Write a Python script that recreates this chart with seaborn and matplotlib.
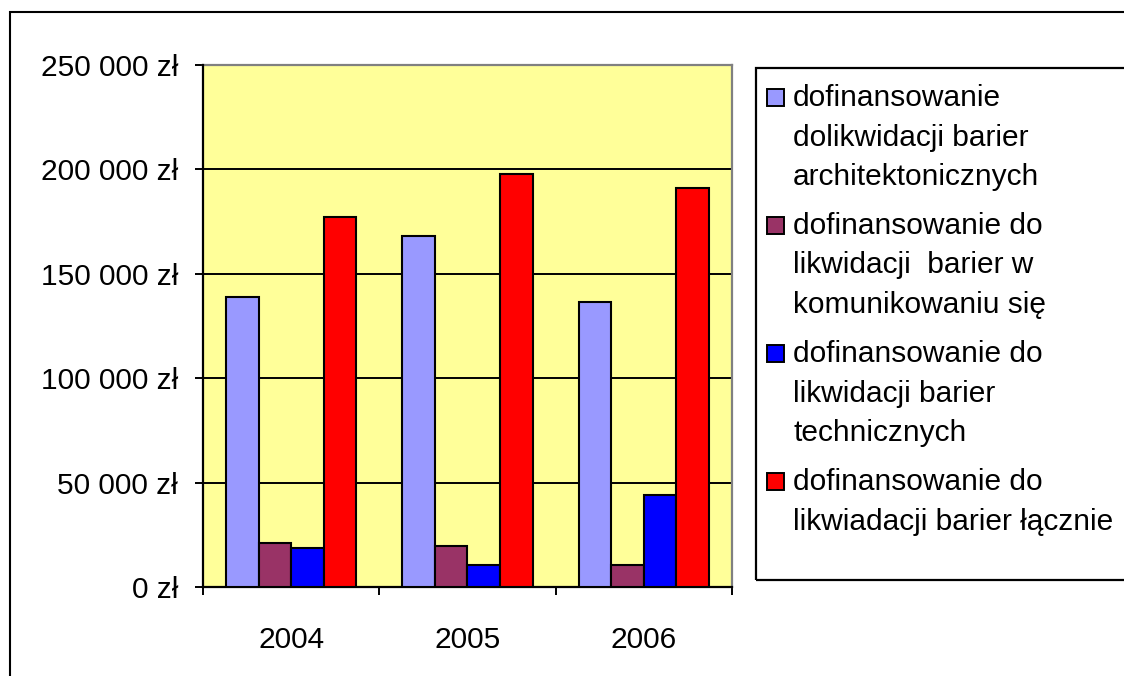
import pandas as pd
import matplotlib
matplotlib.use('Agg')
import matplotlib.pyplot as plt
import matplotlib.patches as mpatches
from matplotlib.ticker import FuncFormatter, FixedLocator
import seaborn as sns

# Dane (kwoty w zł)
lata = ['2004', '2005', '2006']
serie = [
    'dofinansowanie\ndolikwidacji barier\narchitektonicznych',
    'dofinansowanie do\nlikwidacji  barier w\nkomunikowaniu się',
    'dofinansowanie do\nlikwidacji barier\ntechnicznych',
    'dofinansowanie do\nlikwiadacji barier łącznie',
]
architektoniczne = [139000, 168000, 136500]
komunikowanie = [21000, 19600, 10400]
techniczne = [18500, 10400, 44000]
lacznie = [177000, 198000, 191000]
kolory = ['#9999FF', '#993366', '#0000FF', '#FF0000']
y_ticks = [0, 50000, 100000, 150000, 200000, 250000]

df = pd.DataFrame({
    'rok': lata * 4,
    'seria': [s for s in serie for _ in lata],
    'kwota': architektoniczne + komunikowanie + techniczne + lacznie,
})

sns.set_style('white')
plt.rcParams['font.family'] = ['Liberation Sans', 'DejaVu Sans']
plt.rcParams['text.color'] = 'black'
plt.rcParams['xtick.color'] = 'black'
plt.rcParams['ytick.color'] = 'black'

W, H = 1124, 676
FS = 21.5
fig = plt.figure(figsize=(W / 100, H / 100), dpi=100)
fig.patch.set_facecolor('white')

def fx(x):
    return x / W

def fy(y):
    return 1 - y / H

# ramka całego wykresu
fig.patches.append(mpatches.Rectangle((fx(10), -0.1), 1.2, fy(12) + 0.1,
                                      transform=fig.transFigure, fill=False,
                                      edgecolor='black', linewidth=1.5))

ax = fig.add_axes([fx(203), fy(587), (732 - 203) / W, (587 - 65) / H])
ax.set_facecolor('#FFFF99')

sns.barplot(data=df, x='rok', y='kwota', hue='seria', hue_order=serie, order=lata,
            palette=kolory, saturation=1, width=0.74, edgecolor='black',
            linewidth=1.5, errorbar=None, legend=False, ax=ax, zorder=3)

ax.set_xlim(-0.5, 2.5)
ax.set_ylim(0, 250000)
ax.set_xlabel('')
ax.set_ylabel('')

ax.yaxis.set_major_locator(FixedLocator(y_ticks))
ax.yaxis.set_major_formatter(FuncFormatter(
    lambda v, p: f"{int(v):,} zł".replace(',', ' ')))
ax.set_axisbelow(True)
ax.yaxis.grid(True, color='black', linewidth=1.4, zorder=1)
ax.xaxis.grid(False)

# etykiety lat w środku grup, kreski na granicach grup
ax.set_xticks(range(len(lata)))
ax.set_xticklabels(lata)
ax.set_xticks([-0.5, 0.5, 1.5, 2.5], minor=True)
ax.tick_params(axis='x', which='major', length=0, pad=28, labelsize=FS)
ax.tick_params(axis='x', which='minor', length=6, width=1.4, color='black',
               direction='out', bottom=True)
ax.tick_params(axis='y', length=6, width=1.4, color='black', direction='out',
               left=True, pad=12, labelsize=FS)

for s in ['left', 'bottom']:
    ax.spines[s].set_color('black')
    ax.spines[s].set_linewidth(1.6)
for s in ['top', 'right']:
    ax.spines[s].set_color('#808080')
    ax.spines[s].set_linewidth(1.6)
    ax.spines[s].set_zorder(2)

# legenda rysowana ręcznie (kwadrat wyrównany do pierwszej linii)
fig.patches.append(mpatches.Rectangle((fx(756), fy(580)), 1.0, fy(68) - fy(580),
                                      transform=fig.transFigure, fill=False,
                                      edgecolor='black', linewidth=1.6))
base0 = 106
for i, (nazwa, kol) in enumerate(zip(serie, kolory)):
    b = base0 + i * 128
    fig.patches.append(mpatches.Rectangle((fx(767), fy(b)), 17 / W, 17 / H,
                                          transform=fig.transFigure,
                                          facecolor=kol, edgecolor='black',
                                          linewidth=1.4))
    for j, linia in enumerate(nazwa.split('\n')):
        fig.text(fx(793), fy(b + j * 39.5), linia, fontsize=FS,
                 va='baseline', ha='left')

plt.savefig('out.png', dpi=100)
